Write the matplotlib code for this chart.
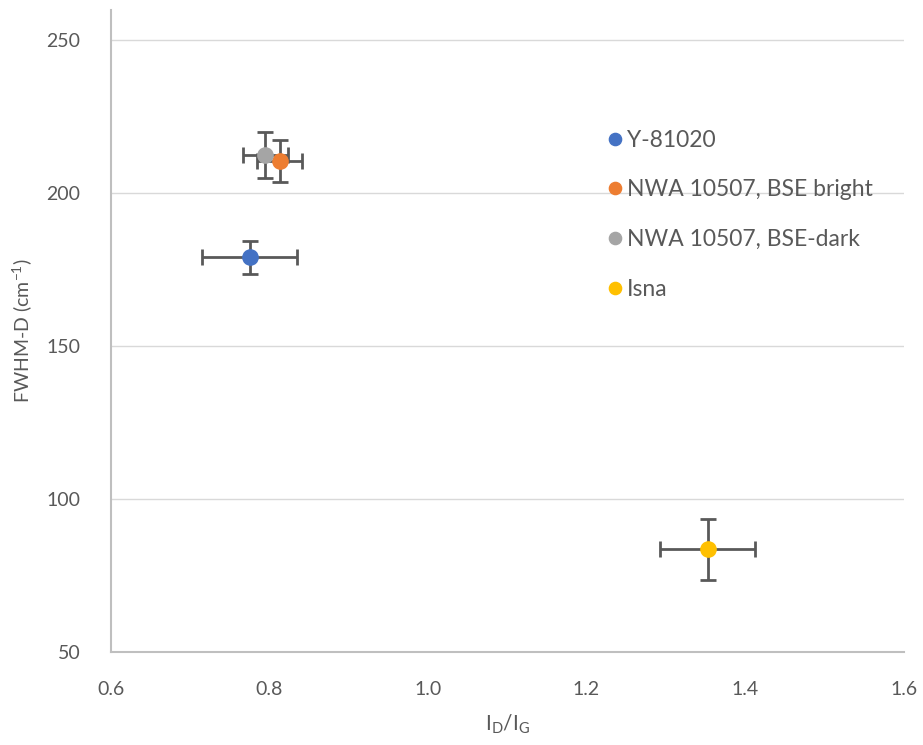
import matplotlib.pyplot as plt

plt.rcParams['font.family'] = ['Lato', 'DejaVu Sans']

# Datos
muestras = ["Y-81020", "NWA 10507, BSE bright", "NWA 10507, BSE-dark", "Isna"]
id_ig = [0.775, 0.813, 0.795, 1.353]
id_ig_err = [0.060, 0.028, 0.028, 0.060]
fwhm_d = [179, 210.5, 212.5, 83.5]
fwhm_d_err = [5.5, 7, 7.5, 10]
colores = ["#4472C4", "#ED7D31", "#A5A5A5", "#FFC000"]

fig = plt.figure(figsize=(9.23, 7.45), dpi=100)
ax = fig.add_axes([0.12, 0.125, 0.859, 0.862])

for nombre, x, xe, y, ye, c in zip(muestras, id_ig, id_ig_err, fwhm_d, fwhm_d_err, colores):
    ax.errorbar(x, y, xerr=xe, yerr=ye, fmt="none", ecolor="#595959",
                elinewidth=2, capsize=6, capthick=2, zorder=2)
    ax.plot(x, y, "o", color=c, markersize=11, label=nombre, zorder=3)

ax.set_xlim(0.6, 1.6)
ax.set_ylim(50, 260)
ax.set_xticks([0.6, 0.8, 1.0, 1.2, 1.4, 1.6])
ax.set_xticklabels(["0.6", "0.8", "1.0", "1.2", "1.4", "1.6"])
ax.set_yticks([50, 100, 150, 200, 250])
ax.grid(axis="y", color="#D9D9D9", linewidth=1)
ax.set_axisbelow(True)

for lado in ["top", "right"]:
    ax.spines[lado].set_visible(False)
for lado in ["left", "bottom"]:
    ax.spines[lado].set_color("#BFBFBF")
    ax.spines[lado].set_linewidth(1.5)
ax.tick_params(axis="y", length=0, labelsize=14, colors="#595959", pad=22)
ax.tick_params(axis="x", length=0, labelsize=14, colors="#595959", pad=21)

ax.set_xlabel(r"I$_\mathregular{D}$/I$_\mathregular{G}$", fontsize=15, color="#595959", labelpad=10)
ax.set_ylabel(r"FWHM-D (cm$^\mathregular{-1}$)", fontsize=14, color="#595959", labelpad=8)

leg = ax.legend(loc="upper left", bbox_to_anchor=(0.595, 0.845), frameon=False,
                fontsize=16.5, labelspacing=1.25, handletextpad=0.05,
                markerscale=0.8, handlelength=1.0)
for t in leg.get_texts():
    t.set_color("#595959")

plt.savefig("out.png", dpi=100)
